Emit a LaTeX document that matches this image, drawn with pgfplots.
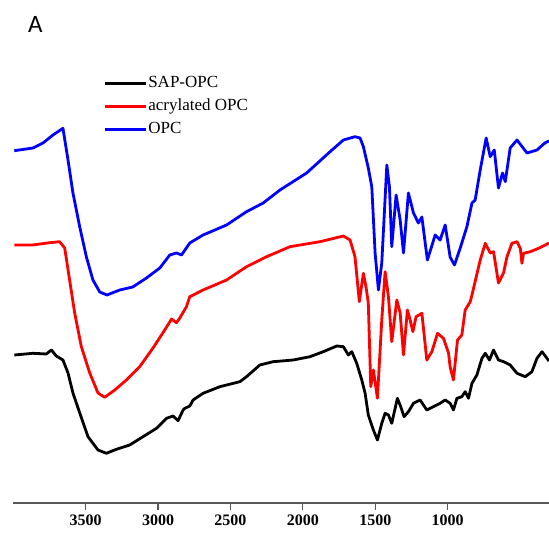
\documentclass[border=0pt]{standalone}
\usepackage{fontspec}
\setmainfont{Liberation Serif}
\newfontfamily\labelfont{Carlito}
\usepackage{pgfplots}
\pgfplotsset{compat=1.18}
\begin{document}
\begin{tikzpicture}[x=1pt,y=1pt]
\path[use as bounding box] (0,0) rectangle (549,535);
\node[font=\labelfont\fontsize{25}{28}\selectfont, inner sep=0pt] at (35.3,510.5) {A};
\begin{axis}[
  at={(13.3pt,32pt)}, anchor=south west,
  scale only axis, width=535.7pt, height=443pt,
  x dir=reverse, xmin=300, xmax=4000, ymin=0, ymax=443,
  axis x line=bottom, axis y line=none,
  axis line style={-, line width=1.6pt, color=black!65},
  xtick={1000,1500,2000,2500,3000,3500},
  xtick align=outside, major tick length=7pt,
  tick style={line width=1.2pt, color=black!65},
  xticklabel style={font=\fontsize{16}{18}\selectfont\bfseries, yshift=-1pt},
  /pgf/number format/assume math mode=true,
  /pgf/number format/set thousands separator={},
  legend style={at={(0.168,0.967)}, anchor=north west, draw=none, fill=none,
    inner sep=0pt, outer sep=0pt, font=\fontsize{17}{19}\selectfont, row sep=5pt,
    nodes={inner sep=1pt, text height=12pt, text depth=4pt}},
  legend cell align=left,
  legend image code/.code={\draw[#1, line width=3pt] (0pt,0pt) -- (41pt,0pt);},
  every axis plot/.append style={line width=2.8pt, line join=round},
]
\addplot[black] coordinates {(3993,148)(3864,149.7)(3772,149)(3737,153)(3703,147)(3657,143)(3622,130)(3588,110)(3541,90)(3484,66.3)(3415,53)(3357,49.7)(3288,53.7)(3196,58)(3104,66.3)(3011,74.7)(2942,84.7)(2896,87)(2862,82.3)(2827,93)(2815,94.7)(2781,97)(2758,103)(2689,109.7)(2573,116.3)(2435,121.3)(2389,126.3)(2297,138)(2205,141.3)(2066,143)(1951,146.3)(1859,151.3)(1766,157)(1720,156.3)(1686,148)(1662,151.3)(1628,139.7)(1593,123)(1570,109.7)(1548,88)(1513,73)(1485,63)(1455,79.7)(1432,89.7)(1409,88)(1386,79.7)(1347,104.7)(1324,96.3)(1301,86.3)(1271,91.3)(1236,99.7)(1190,103)(1144,93)(1098,96.3)(1052,99.7)(1017,103)(983,99.7)(960,93)(936,104.7)(902,106.3)(879,111.3)(856,104.7)(832,119.7)(798,128)(763,144.7)(740,149.7)(711,143)(683,153)(649,143)(614,141.3)(568,138)(521,129.7)(464,126.3)(418,131.3)(383,144.7)(348,151.3)(314,144.7)(300,142)};
\addlegendentry{SAP-OPC}
\addplot[red] coordinates {(3993,258)(3866,258)(3749,260.3)(3680,261.3)(3645,255)(3611,223)(3576,190)(3530,156.3)(3472,130)(3415,110)(3369,105.7)(3299,113)(3219,123)(3127,136.3)(3035,155)(2954,173)(2907,184)(2873,180.3)(2850,185)(2804,196.3)(2781,206.3)(2689,213)(2527,223)(2389,236.3)(2250,246.3)(2089,256.3)(1882,261.3)(1720,267)(1674,263)(1640,246.3)(1610,201.3)(1582,229.7)(1564,216.3)(1548,200)(1531,116.3)(1513,133)(1485,104.7)(1455,183)(1432,231.3)(1409,206.3)(1386,161.3)(1351,203)(1328,190)(1305,148)(1278,193)(1259,183)(1240,171.3)(1218,186.3)(1178,189.7)(1144,143)(1109,151.3)(1070,169.7)(1029,164.7)(994,150)(983,136.3)(960,123)(932,163)(902,168)(879,193)(844,201.3)(832,208)(775,243)(740,259.7)(706,250)(683,251.3)(649,220)(614,230)(590,246.3)(556,259.7)(521,261.3)(498,254.7)(487,239.7)(476,249.7)(429,251.3)(372,254.7)(326,258)(300,260)};
\addlegendentry{acrylated OPC}
\addplot[blue] coordinates {(3993,352.3)(3864,355)(3795,360)(3726,368)(3657,374.7)(3622,343)(3588,310)(3541,276)(3495,246)(3450,223)(3403,211)(3353,208)(3265,213)(3175,216)(3080,225)(2988,235)(2919,248)(2873,250)(2838,248)(2781,260)(2689,268)(2527,278)(2389,291.3)(2274,300)(2158,313)(1974,330)(1812,351.3)(1720,363)(1640,366.3)(1605,365)(1582,356.3)(1548,335)(1524,316.3)(1501,250)(1478,213)(1455,240)(1420,338)(1402,316.3)(1386,256.3)(1356,308)(1328,283)(1305,250)(1271,310)(1236,290)(1202,280)(1178,286)(1140,243)(1086,268)(1052,263)(1017,278)(983,246)(953,238)(913,255)(867,276.3)(832,300)(810,303)(775,333)(734,365)(706,346.3)(678,353)(649,315)(621,330)(602,321.3)(568,355)(521,363)(452,350)(383,353)(326,360.3)(300,362)};
\addlegendentry{OPC}
\end{axis}
\end{tikzpicture}
\end{document}
